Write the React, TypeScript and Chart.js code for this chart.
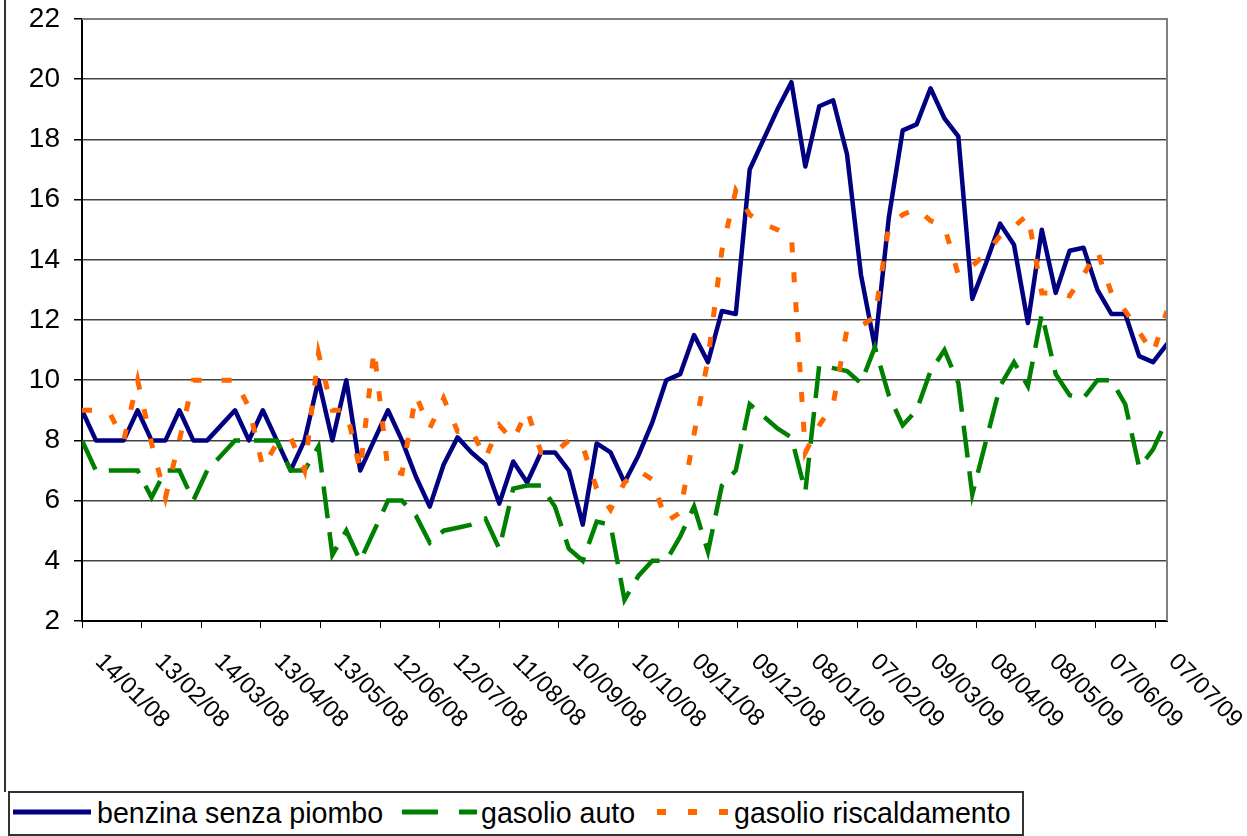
import React, { useEffect, useRef } from 'react';
import { Chart, registerables } from 'chart.js';

Chart.register(...registerables);

// Weekly observation dates (dd/mm/yy)
const weeks: string[] = [
  '14/01/08', '21/01/08', '28/01/08', '04/02/08', '11/02/08', '18/02/08', '25/02/08', '03/03/08',
  '10/03/08', '17/03/08', '24/03/08', '31/03/08', '07/04/08', '14/04/08', '21/04/08', '28/04/08',
  '05/05/08', '12/05/08', '19/05/08', '26/05/08', '02/06/08', '09/06/08', '16/06/08', '23/06/08',
  '30/06/08', '07/07/08', '14/07/08', '21/07/08', '28/07/08', '04/08/08', '11/08/08', '18/08/08',
  '25/08/08', '01/09/08', '08/09/08', '15/09/08', '22/09/08', '29/09/08', '06/10/08', '13/10/08',
  '20/10/08', '27/10/08', '03/11/08', '10/11/08', '17/11/08', '24/11/08', '01/12/08', '08/12/08',
  '15/12/08', '22/12/08', '29/12/08', '05/01/09', '12/01/09', '19/01/09', '26/01/09', '02/02/09',
  '09/02/09', '16/02/09', '23/02/09', '02/03/09', '09/03/09', '16/03/09', '23/03/09', '30/03/09',
  '06/04/09', '13/04/09', '20/04/09', '27/04/09', '04/05/09', '11/05/09', '18/05/09', '25/05/09',
  '01/06/09', '08/06/09', '15/06/09', '22/06/09', '29/06/09', '06/07/09', '13/07/09',
];

// X-axis tick labels
const tickLabels: string[] = [
  '14/01/08', '13/02/08', '14/03/08', '13/04/08', '13/05/08', '12/06/08', '12/07/08', '11/08/08',
  '10/09/08', '10/10/08', '09/11/08', '09/12/08', '08/01/09', '07/02/09', '09/03/09', '08/04/09',
  '08/05/09', '07/06/09', '07/07/09',
];

const benzina: number[] = [
  9.0, 8.0, 8.0, 8.0, 9.0, 8.0, 8.0, 9.0, 8.0, 8.0, 8.5, 9.0, 8.0, 9.0, 8.0, 7.0,
  8.0, 10.0, 8.0, 10.0, 7.0, 8.0, 9.0, 8.0, 6.8, 5.8, 7.2, 8.1, 7.6, 7.2, 5.9, 7.3,
  6.6, 7.6, 7.6, 7.0, 5.2, 7.9, 7.6, 6.6, 7.5, 8.6, 10.0, 10.2, 11.5, 10.6, 12.3, 12.2,
  17.0, 18.0, 19.0, 19.9, 17.1, 19.1, 19.3, 17.5, 13.5, 11.1, 15.4, 18.3, 18.5, 19.7, 18.7, 18.1,
  12.7, 13.9, 15.2, 14.5, 11.9, 15.0, 12.9, 14.3, 14.4, 13.0, 12.2, 12.2, 10.8, 10.6, 11.2,
];

const gasolioAuto: number[] = [
  8.0, 7.0, 7.0, 7.0, 7.0, 6.1, 7.0, 7.0, 6.0, 7.0, 7.5, 8.0, 8.0, 8.0, 8.0, 7.0,
  7.0, 7.8, 4.2, 5.0, 4.0, 5.0, 6.0, 6.0, 5.5, 4.6, 5.0, 5.1, 5.2, 5.4, 4.4, 6.4,
  6.5, 6.5, 5.8, 4.4, 4.0, 5.3, 5.2, 2.7, 3.5, 4.0, 4.0, 4.8, 5.8, 4.3, 6.5, 7.0,
  9.2, 8.8, 8.4, 8.1, 6.3, 10.5, 10.4, 10.3, 9.9, 11.1, 9.5, 8.5, 9.0, 10.3, 11.0, 9.9,
  6.2, 8.0, 9.8, 10.6, 9.8, 12.2, 10.2, 9.5, 9.4, 10.0, 10.0, 9.2, 7.1, 7.7, 8.7,
];

const gasolioRisc: number[] = [
  9.0, 9.0, 8.9, 8.0, 10.0, 7.9, 6.1, 8.0, 10.0, 10.0, 10.0, 10.0, 9.1, 7.1, 7.9, 8.1,
  7.0, 10.9, 9.0, 9.0, 7.0, 11.0, 7.0, 6.9, 9.5, 8.4, 9.4, 8.3, 8.35, 7.4, 8.5, 8.0,
  9.0, 7.6, 7.6, 8.0, 7.8, 6.4, 5.7, 6.6, 7.0, 6.7, 5.3, 5.6, 8.2, 10.7, 14.3, 16.3,
  15.5, 15.2, 15.0, 14.8, 7.6, 8.5, 9.2, 11.7, 11.8, 12.1, 15.1, 15.5, 15.7, 15.3, 15.1, 13.5,
  13.8, 14.2, 14.8, 15.1, 15.5, 12.9, 12.9, 12.8, 13.5, 14.3, 12.9, 12.3, 11.6, 10.9, 12.3,
];

const seriesNames: string[] = ['benzina senza piombo', 'gasolio auto', 'gasolio riscaldamento'];

const FONT = '"Liberation Sans", Arial, Helvetica, sans-serif';

const dayOf = (s: string): number => {
  const [d, m, y] = s.split('/').map(Number);
  return (Date.UTC(2000 + y, m - 1, d) - Date.UTC(2008, 0, 14)) / 86400000;
};

const toPoints = (vals: number[]) => weeks.map((w, i) => ({ x: dayOf(w), y: vals[i] }));

const labelPlugin = {
  id: 'rotLabels',
  afterDraw(chart: any) {
    const { ctx, chartArea } = chart;
    const xs = chart.scales.x;
    ctx.save();
    // right and top plot border
    ctx.strokeStyle = '#808080';
    ctx.lineWidth = 2;
    ctx.beginPath();
    ctx.moveTo(chartArea.left, chartArea.top);
    ctx.lineTo(chartArea.right, chartArea.top);
    ctx.lineTo(chartArea.right, chartArea.bottom);
    ctx.stroke();
    // rotated x labels
    ctx.font = `24px ${FONT}`;
    ctx.fillStyle = '#000';
    ctx.textAlign = 'left';
    ctx.textBaseline = 'middle';
    tickLabels.forEach((l) => {
      const px = xs.getPixelForValue(dayOf(l));
      ctx.save();
      ctx.translate(px + 17, chartArea.bottom + 37);
      ctx.rotate(Math.PI / 4);
      ctx.fillText(l, 0, 0);
      ctx.restore();
    });
    ctx.restore();
  },
};

export default function App() {
  const ref = useRef<HTMLCanvasElement | null>(null);

  useEffect(() => {
    if (!ref.current) return;
    Chart.defaults.font.family = FONT;
    const chart = new Chart(ref.current, {
      type: 'line',
      data: {
        datasets: [
          {
            label: seriesNames[0],
            data: toPoints(benzina),
            borderColor: '#000080',
            borderWidth: 4.5,
            pointRadius: 0,
            tension: 0,
            borderJoinStyle: 'round',
            borderCapStyle: 'round',
            order: 3,
          },
          {
            label: seriesNames[1],
            data: toPoints(gasolioAuto),
            borderColor: '#008000',
            borderWidth: 4.5,
            borderDash: [32, 14],
            pointRadius: 0,
            tension: 0,
            borderCapStyle: 'butt',
            order: 2,
          },
          {
            label: seriesNames[2],
            data: toPoints(gasolioRisc),
            borderColor: '#FF6600',
            borderWidth: 5,
            borderDash: [10, 20],
            pointRadius: 0,
            tension: 0,
            borderCapStyle: 'butt',
            order: 1,
          },
        ],
      },
      options: {
        responsive: false,
        animation: false,
        layout: { padding: { left: 0, top: 19, right: 80, bottom: 208 } },
        plugins: { legend: { display: false }, tooltip: { enabled: false } },
        scales: {
          x: {
            type: 'linear',
            min: 0,
            max: dayOf(weeks[weeks.length - 1]),
            afterBuildTicks: (s: any) => {
              s.ticks = tickLabels.map((l) => ({ value: dayOf(l) }));
            },
            afterFit: (s: any) => {
              s.height = 7;
              s.paddingLeft = 0;
              s.paddingRight = 0;
              s.paddingTop = 0;
              s.paddingBottom = 0;
            },
            ticks: { display: false },
            grid: { drawOnChartArea: false, drawTicks: true, tickLength: 7, color: '#000', lineWidth: 1 },
            border: { color: '#000', width: 2 },
          },
          y: {
            min: 2,
            max: 22,
            afterFit: (s: any) => {
              s.width = 82;
              s.paddingTop = 0;
              s.paddingBottom = 0;
              s.paddingLeft = 0;
              s.paddingRight = 0;
            },
            ticks: { stepSize: 2, color: '#000', padding: 14, font: { size: 28, family: FONT } },
            grid: {
              color: (c: any) => (c.tick && c.tick.value === 22 ? 'rgba(0,0,0,0)' : '#444'),
              lineWidth: 1.5,
              tickLength: 8,
              tickColor: '#000',
            },
            border: { color: '#000', width: 2 },
          },
        },
      },
      plugins: [labelPlugin],
    });
    return () => chart.destroy();
  }, []);

  const legendText: React.CSSProperties = {
    position: 'absolute',
    top: 799,
    fontFamily: FONT,
    fontSize: 28.6,
    lineHeight: '28px',
    color: '#000',
    whiteSpace: 'nowrap',
  };

  return (
    <div style={{ position: 'absolute', left: 0, top: 0, width: 1247, height: 836, background: '#fff', overflow: 'hidden' }}>
      <canvas ref={ref} width={1247} height={836} style={{ position: 'absolute', left: 0, top: 0 }} />
      <div style={{ position: 'absolute', left: 4, top: 0, width: 2, height: 792, background: '#333' }} />
      <div
        style={{
          position: 'absolute',
          left: 8,
          top: 791,
          width: 1012,
          height: 41,
          border: '2px solid #333',
          background: '#fff',
        }}
      />
      <svg width={1247} height={836} style={{ position: 'absolute', left: 0, top: 0 }}>
        <line x1={13} y1={812} x2={91} y2={812} stroke="#000080" strokeWidth={5} />
        <line x1={402} y1={812} x2={477} y2={812} stroke="#008000" strokeWidth={5} strokeDasharray="36 21" />
        <line x1={657} y1={812} x2={729} y2={812} stroke="#FF6600" strokeWidth={6} strokeDasharray="9 22" />
      </svg>
      <span style={{ ...legendText, left: 97 }}>{seriesNames[0]}</span>
      <span style={{ ...legendText, left: 481 }}>{seriesNames[1]}</span>
      <span style={{ ...legendText, left: 734 }}>{seriesNames[2]}</span>
    </div>
  );
}
